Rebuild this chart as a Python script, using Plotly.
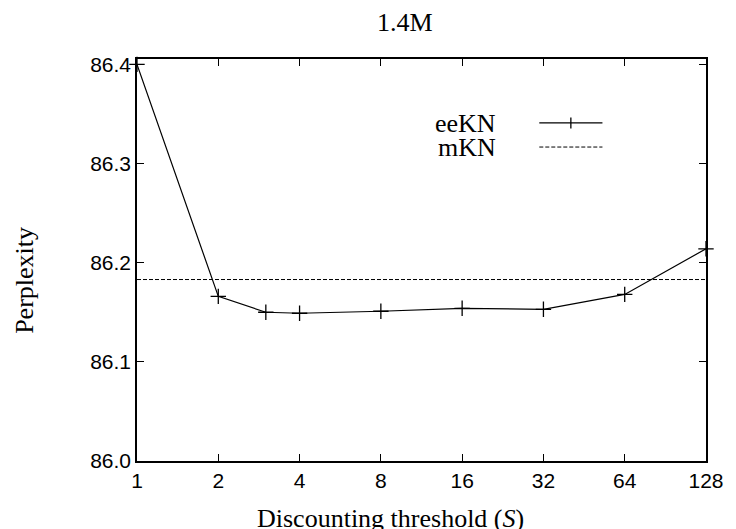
import plotly.graph_objects as go

# Perplexity vs. discounting threshold, 1.4M training set
thresholds = [1, 2, 3, 4, 8, 16, 32, 64, 128]
eekn_ppl = [86.400, 86.166, 86.150, 86.149, 86.151, 86.154, 86.153, 86.168, 86.214]
mkn_ppl = 86.183

x_ticks = [1, 2, 4, 8, 16, 32, 64, 128]
x_ticktext = ["1", "2", "4", "8", "16", "32", "64", "128"]
y_ticks = [86.0, 86.1, 86.2, 86.3, 86.4]
y_ticktext = ["86.0", "86.1", "86.2", "86.3", "86.4"]

SERIF = "Liberation Serif, Times New Roman, serif"
SANS = "Liberation Sans, Arial, sans-serif"

fig = go.Figure()

fig.add_trace(go.Scatter(
    x=thresholds, y=eekn_ppl, mode="lines+markers", name="eeKN",
    line=dict(color="black", width=1.2),
    marker=dict(symbol="cross-thin", size=11, line=dict(color="black", width=1.3)),
    cliponaxis=False, showlegend=False,
))
fig.add_trace(go.Scatter(
    x=[x_ticks[0], x_ticks[-1]], y=[mkn_ppl, mkn_ppl], mode="lines", name="mKN",
    line=dict(color="black", width=1, dash="4px,2px"),
    showlegend=False,
))

# key: labels right-aligned, followed by line samples
key_x_text = 0.634
key_x0, key_x1 = 0.707, 0.818
key_rows = [(0.841, "eeKN", "solid"), (0.781, "mKN", "4px,2px")]
annotations = []
shapes = []
for ky, label, dash in key_rows:
    annotations.append(dict(
        x=key_x_text, y=ky, xref="paper", yref="paper", text=label,
        showarrow=False, xanchor="right", yanchor="middle", height=22,
        font=dict(family=SERIF, size=26, color="black"),
    ))
    shapes.append(dict(
        type="line", xref="paper", yref="paper", x0=key_x0, x1=key_x1, y0=ky, y1=ky,
        line=dict(color="black", width=1.2 if dash == "solid" else 1, dash=dash),
    ))
# "+" glyph on the eeKN sample
kxm = (key_x0 + key_x1) / 2
shapes.append(dict(type="line", xref="paper", yref="paper", x0=kxm, x1=kxm,
                   y0=0.841 - 0.0137, y1=0.841 + 0.0137,
                   line=dict(color="black", width=1.3)))

annotations += [
    dict(x=0.471, y=1.0896, xref="paper", yref="paper", text="1.4M",
         showarrow=False, xanchor="center", yanchor="middle",
         font=dict(family=SERIF, size=26, color="black")),
    dict(x=0.445, y=-0.142, xref="paper", yref="paper",
         text="Discounting threshold (<i>S</i>)",
         showarrow=False, xanchor="center", yanchor="middle",
         font=dict(family=SERIF, size=26, color="black")),
    dict(x=-0.199, y=0.45, xref="paper", yref="paper", text="Perplexity",
         showarrow=False, xanchor="center", yanchor="middle", textangle=-90,
         font=dict(family=SERIF, size=26, color="black")),
]

fig.update_layout(
    width=736, height=529,
    margin=dict(l=137, r=22, t=59, b=68),
    paper_bgcolor="white", plot_bgcolor="white",
    showlegend=False,
    annotations=annotations,
    shapes=shapes,
    xaxis=dict(
        type="log", range=[0, 2.10721], tickvals=x_ticks, ticktext=x_ticktext,
        ticks="inside", ticklen=7, tickwidth=1, tickcolor="black",
        showline=True, linecolor="black", linewidth=1.5, mirror="allticks",
        showgrid=False, zeroline=False,
        tickfont=dict(family=SANS, size=21, color="black"),
    ),
    yaxis=dict(
        range=[86.0, 86.4054], tickvals=y_ticks, ticktext=y_ticktext,
        ticks="inside", ticklen=7, tickwidth=1, tickcolor="black",
        showline=True, linecolor="black", linewidth=1.5, mirror="allticks",
        showgrid=False, zeroline=False,
        tickfont=dict(family=SANS, size=21, color="black"),
    ),
)

fig.write_html("out.html")
